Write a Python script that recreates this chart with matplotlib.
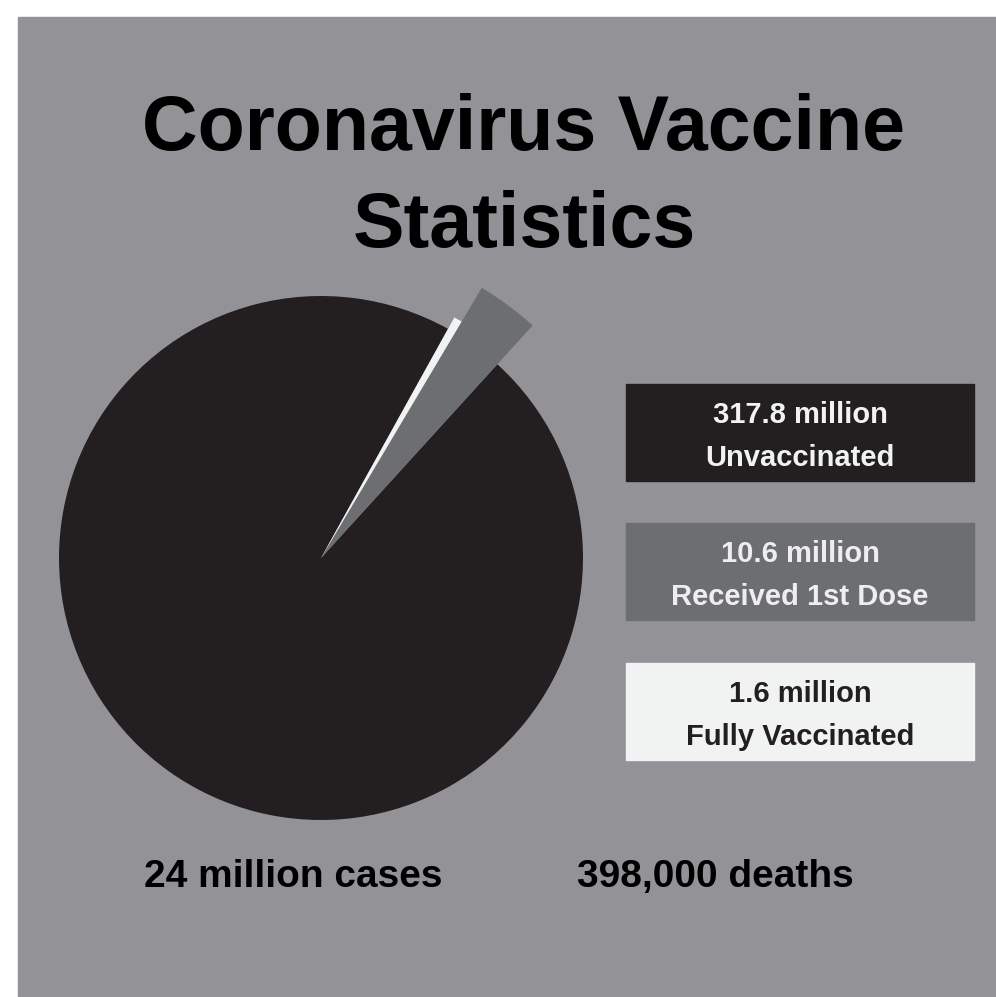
import matplotlib.pyplot as plt
from matplotlib.patches import Rectangle

plt.rcParams['font.family'] = ['Liberation Sans', 'DejaVu Sans']

# Data (millions of people)
groups = ['Unvaccinated', 'Received 1st Dose', 'Fully Vaccinated']
values = [317.8, 10.6, 1.6]
value_labels = ['317.8 million', '10.6 million', '1.6 million']
colors = ['#231f20', '#6d6e72', '#f1f2f2']
text_colors = ['#f1f2f2', '#eeeeee', '#231f20']
# relative radius of each wedge (the small slices stick out)
radii = [1.0, 1.2, 1.05]

title = 'Coronavirus Vaccine\nStatistics'
footer = ['24 million cases', '398,000 deaths']

W, H = 996, 997
fig = plt.figure(figsize=(W / 100, H / 100), dpi=100)
fig.patch.set_facecolor('white')

ax = fig.add_axes([0, 0, 1, 1])
ax.set_xlim(0, W)
ax.set_ylim(0, H)
ax.set_aspect('equal')
ax.axis('off')

# grey card
ax.add_patch(Rectangle((18, 0), W - 18, H - 17, color='#939397', zorder=0))

# title
ax.text(524, H - 178, title, ha='center', va='center', fontsize=55.5,
        fontweight='bold', color='black', linespacing=1.42)

# pie
R = 262
wedges, _ = ax.pie(values, colors=colors, startangle=61, counterclock=True,
                   center=(321, H - 558), radius=R, frame=True,
                   wedgeprops=dict(linewidth=0))
for w, r in zip(wedges, radii):
    w.set_radius(R * r)
ax.set_xlim(0, W)
ax.set_ylim(0, H)
ax.axis('off')

# legend boxes
box_x, box_w, box_h = 626, 348, 97
box_tops = [384, 523, 663]
for top, col, tcol, v, g in zip(box_tops, colors, text_colors, value_labels, groups):
    y0 = H - top - box_h
    ax.add_patch(Rectangle((box_x, y0), box_w, box_h, color=col, zorder=3))
    ax.text(box_x + box_w / 2, y0 + box_h * 0.68, v, ha='center', va='center',
            fontsize=21, fontweight='bold', color=tcol, zorder=4)
    ax.text(box_x + box_w / 2, y0 + box_h * 0.24, g, ha='center', va='center',
            fontsize=21, fontweight='bold', color=tcol, zorder=4)

# footer numbers
ax.text(293, H - 877, footer[0], ha='center', va='center', fontsize=28,
        fontweight='bold', color='black')
ax.text(715, H - 877, footer[1], ha='center', va='center', fontsize=28,
        fontweight='bold', color='black')

fig.savefig('out.png', dpi=100, facecolor=fig.get_facecolor())
